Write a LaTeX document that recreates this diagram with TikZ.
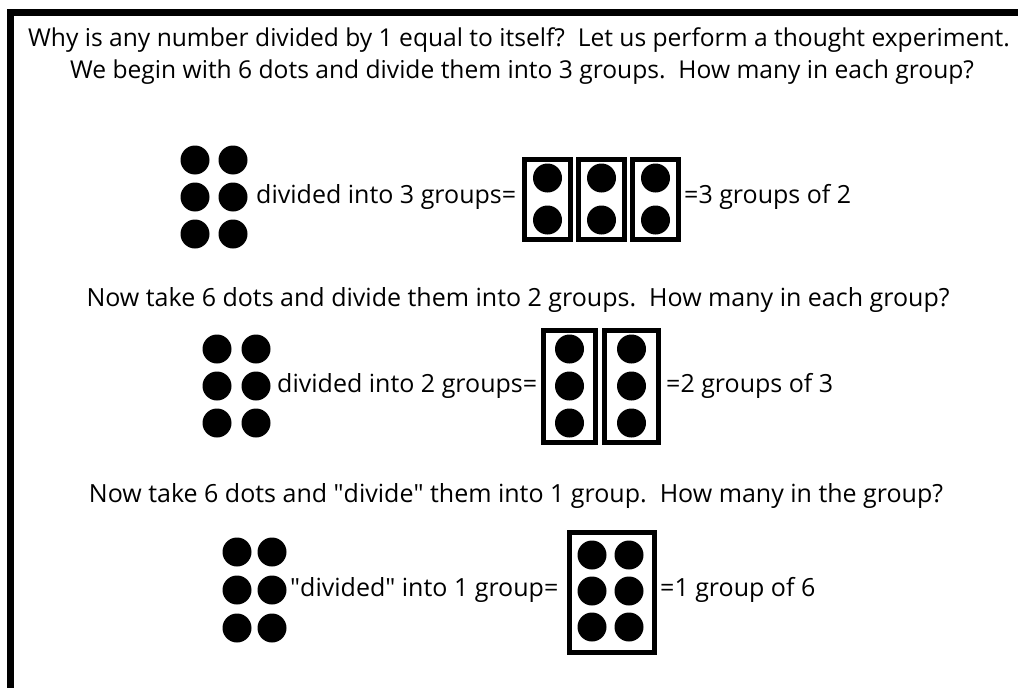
\documentclass[tikz,border=0pt]{standalone}
\usepackage{fontspec}
\setmainfont{Open Sans}
\usetikzlibrary{positioning}

\begin{document}
\begin{tikzpicture}[
  x=1pt,
  y=-1pt,
  frame/.style={line width=7pt},
  dot/.style={circle, fill=black, minimum size=29pt, inner sep=0pt},
  grp/.style={rectangle, draw=black, line width=5pt, fill=white},
  intro/.style={font=\fontsize{24.6}{30}\selectfont},
  every node/.style={font=\fontsize{25}{30}\selectfont, inner sep=0pt}
]
\useasboundingbox (0,0) rectangle (1018,688);
\draw[frame] (10.5,688) |- (1018,12.5);

% intro
\node[intro] (intro1) at (519,40) {Why is any number divided by 1 equal to itself?\ \ Let us perform a thought experiment.};
\node[intro] (intro2) at (522,72) {We begin with 6 dots and divide them into 3 groups.\ \ How many in each group?};

% three groups
\node[dot] (a1) at (195,160) {};
\node[dot] (a2) at (233,160) {};
\node[dot] (a3) at (195,197) {};
\node[dot] (a4) at (233,197) {};
\node[dot] (a5) at (195,234) {};
\node[dot] (a6) at (233,234) {};
\node[anchor=west] (atxt) at (256,197) {divided into 3 groups=};
\node[grp, minimum width=46pt, minimum height=80pt] (ag1) at (547.5,199.5) {};
\node[grp, minimum width=46pt, minimum height=80pt] (ag2) at (601.5,199.5) {};
\node[grp, minimum width=46pt, minimum height=80pt] (ag3) at (655.5,199.5) {};
\node[dot] (ag1a) at (547.5,178) {};
\node[dot] (ag1b) at (547.5,220) {};
\node[dot] (ag2a) at (601.5,178) {};
\node[dot] (ag2b) at (601.5,220) {};
\node[dot] (ag3a) at (655.5,178) {};
\node[dot] (ag3b) at (655.5,220) {};
\node[anchor=west] (ares) at (684,197) {=3 groups of 2};

% two groups
\node (btitle) at (518,300) {Now take 6 dots and divide them into 2 groups.\ \ How many in each group?};
\node[dot] (b1) at (217,349) {};
\node[dot] (b2) at (256,349) {};
\node[dot] (b3) at (217,386) {};
\node[dot] (b4) at (256,386) {};
\node[dot] (b5) at (217,423) {};
\node[dot] (b6) at (256,423) {};
\node[anchor=west] (btxt) at (277,386) {divided into 2 groups=};
\node[grp, minimum width=52pt, minimum height=112pt] (bg1) at (569.5,386.5) {};
\node[grp, minimum width=54pt, minimum height=112pt] (bg2) at (631.5,386.5) {};
\node[dot] (bg1a) at (569.5,349) {};
\node[dot] (bg1b) at (569.5,386) {};
\node[dot] (bg1c) at (569.5,423) {};
\node[dot] (bg2a) at (631.5,349) {};
\node[dot] (bg2b) at (631.5,386) {};
\node[dot] (bg2c) at (631.5,423) {};
\node[anchor=west] (bres) at (666,386) {=2 groups of 3};

% one group
\node (ctitle) at (516,496) {Now take 6 dots and \textquotedbl divide\textquotedbl\ them into 1 group.\ \ How many in the group?};
\node[dot] (c1) at (237,552) {};
\node[dot] (c2) at (272,552) {};
\node[dot] (c3) at (237,590) {};
\node[dot] (c4) at (272,590) {};
\node[dot] (c5) at (237,628) {};
\node[dot] (c6) at (272,628) {};
\node[anchor=west] (ctxt) at (290,590) {\textquotedbl divided\textquotedbl\ into 1 group=};
\node[grp, minimum width=85pt, minimum height=120pt] (cg1) at (611.5,592.5) {};
\node[dot] (cg1a) at (592,555) {};
\node[dot] (cg1b) at (629,555) {};
\node[dot] (cg1c) at (592,591) {};
\node[dot] (cg1d) at (629,591) {};
\node[dot] (cg1e) at (592,627) {};
\node[dot] (cg1f) at (629,627) {};
\node[anchor=west] (cres) at (660,590) {=1 group of 6};
\end{tikzpicture}
\end{document}
